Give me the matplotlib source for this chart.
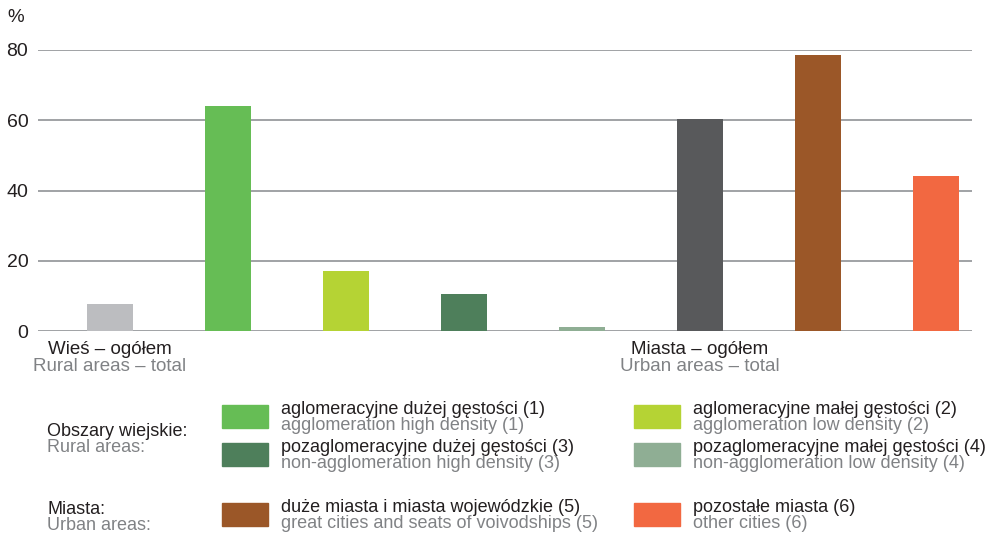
import matplotlib
matplotlib.use('Agg')
import matplotlib.pyplot as plt
import matplotlib.patches as mpatches

plt.rcParams['font.family'] = ['Liberation Sans', 'DejaVu Sans']

# bar data (two totals + six detailed categories)
bar_values = [7.7, 64.1, 17.1, 10.5, 1.1, 60.4, 78.6, 44.1]
bar_colors = ['#bcbdc0', '#66bd55', '#b5d334', '#4e7f5b', '#8fae94',
              '#58595b', '#9b5728', '#f26841']

group_pl = ['Wieś – ogółem', 'Miasta – ogółem']
group_en = ['Rural areas – total', 'Urban areas – total']
group_pos = [0, 5]

yticks = [0, 20, 40, 60, 80]

# legend
legend_pl = ['aglomeracyjne dużej gęstości (1)', 'aglomeracyjne małej gęstości (2)',
             'pozaglomeracyjne dużej gęstości (3)', 'pozaglomeracyjne małej gęstości (4)',
             'duże miasta i miasta wojewódzkie (5)', 'pozostałe miasta (6)']
legend_en = ['agglomeration high density (1)', 'agglomeration low density (2)',
             'non-agglomeration high density (3)', 'non-agglomeration low density (4)',
             'great cities and seats of voivodships (5)', 'other cities (6)']
legend_colors = bar_colors[1:5] + bar_colors[6:8]
section_pl = ['Obszary wiejskie:', 'Miasta:']
section_en = ['Rural areas:', 'Urban areas:']

W, H = 997, 534
fig = plt.figure(figsize=(W / 100, H / 100), dpi=100)
fig.patch.set_facecolor('white')

def fx(x):
    return x / W

def fy(y):
    return 1 - y / H

ax = fig.add_axes([fx(38), fy(331), fx(972) - fx(38), fy(50) - fy(331)])
x = list(range(len(bar_values)))
ax.bar(x, bar_values, width=0.39, color=bar_colors, zorder=3)
ax.set_xlim(-0.61, 7.305)
ax.set_ylim(0, 80)
ax.set_yticks(yticks)
ax.yaxis.grid(True, color='#a0a2a5', linewidth=1.4, zorder=0)
ax.set_axisbelow(True)
ax.set_xticks([])
for s in ax.spines.values():
    s.set_visible(False)
ax.tick_params(axis='y', length=0, labelsize=14, colors='#231f20', pad=7)

fig.text(fx(7), fy(18), '%', fontsize=13.5, color='#231f20', va='center', ha='left')

for p, t1, t2 in zip(group_pos, group_pl, group_en):
    ax.text(p, -5.3, t1, fontsize=13.5, color='#231f20', ha='center', va='center')
    ax.text(p, -10.1, t2, fontsize=13.5, color='#808285', ha='center', va='center')

# legend grid, drawn in figure coordinates
col_x = [222, 634]
row_y = [405, 443, 503]
sw, sh = 46, 23
slots = [(0, 0), (0, 1), (1, 0), (1, 1), (2, 0), (2, 1)]
for (r, c), col, t1, t2 in zip(slots, legend_colors, legend_pl, legend_en):
    x0, y0 = col_x[c], row_y[r]
    fig.patches.append(mpatches.Rectangle((fx(x0), fy(y0 + sh)), fx(sw), sh / H,
                                          transform=fig.transFigure, color=col))
    fig.text(fx(x0 + 59), fy(y0 + 5), t1, fontsize=13, color='#231f20', va='center')
    fig.text(fx(x0 + 59), fy(y0 + 21), t2, fontsize=13, color='#808285', va='center')

for sy, t1, t2 in zip([431, 509], section_pl, section_en):
    fig.text(fx(47), fy(sy), t1, fontsize=13, color='#231f20', va='center')
    fig.text(fx(47), fy(sy + 16), t2, fontsize=13, color='#808285', va='center')

fig.savefig('out.png', dpi=100, facecolor='white')
